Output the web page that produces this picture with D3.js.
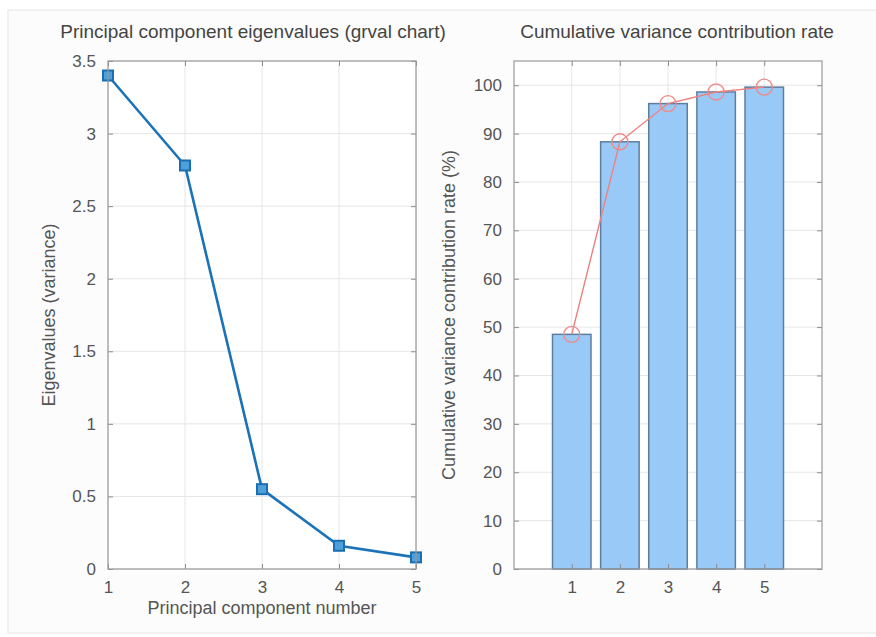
<!DOCTYPE html>
<html>
<head>
<meta charset="utf-8">
<script src="https://cdn.jsdelivr.net/npm/d3@7"></script>
<style>
  body { margin: 0; background: #fff; }
  svg text { font-family: "Liberation Sans", Arial, sans-serif; }
</style>
</head>
<body>
<svg id="fig" width="876" height="637"></svg>
<script>
// chart data
const components = [1, 2, 3, 4, 5];
const eigenvalues = [3.40, 2.78, 0.55, 0.16, 0.08];
const cumulative = [48.5, 88.3, 96.2, 98.6, 99.6];
const leftYTicks = [0, 0.5, 1, 1.5, 2, 2.5, 3, 3.5];
const rightYTicks = [0, 10, 20, 30, 40, 50, 60, 70, 80, 90, 100];

const svg = d3.select("#fig");

// figure frame
svg.append("rect")
  .attr("x", 8).attr("y", 10)
  .attr("width", 880).attr("height", 623)
  .attr("fill", "#fcfcfc")
  .attr("stroke", "#e4e4e4");

const tickColor = "#8c8c8c";
const textColor = "#555";
const tickLen = 5;
const tickFont = "17px";
const labelFont = "18px";

// grid lines behind the data
function drawGrid(g, x, y, xTicks, yTicks) {
  const [x0, x1] = x.range();
  const [y0, y1] = y.range(); // y0 bottom, y1 top

  g.append("rect")
    .attr("x", x0).attr("y", y1)
    .attr("width", x1 - x0).attr("height", y0 - y1)
    .attr("fill", "#fff");

  g.selectAll(".gx").data(xTicks).join("line")
    .attr("x1", (d) => x(d)).attr("x2", (d) => x(d))
    .attr("y1", y0).attr("y2", y1)
    .attr("stroke", "#e6e6e6");
  g.selectAll(".gy").data(yTicks).join("line")
    .attr("x1", x0).attr("x2", x1)
    .attr("y1", (d) => y(d)).attr("y2", (d) => y(d))
    .attr("stroke", "#e6e6e6");
}

// matlab-like box with inward ticks on all four sides
function drawTicks(g, x, y, xTicks, yTicks, yFmt) {
  const [x0, x1] = x.range();
  const [y0, y1] = y.range();

  const bottom = g.append("g").attr("transform", `translate(0,${y0})`)
    .call(d3.axisBottom(x).tickValues(xTicks).tickFormat(d3.format("d"))
      .tickSizeInner(-tickLen).tickSizeOuter(0).tickPadding(12));
  const top = g.append("g").attr("transform", `translate(0,${y1})`)
    .call(d3.axisTop(x).tickValues(xTicks).tickSizeInner(-tickLen).tickSizeOuter(0).tickFormat(""));
  const left = g.append("g").attr("transform", `translate(${x0},0)`)
    .call(d3.axisLeft(y).tickValues(yTicks).tickSizeInner(-tickLen).tickSizeOuter(0).tickPadding(12).tickFormat(yFmt));
  const right = g.append("g").attr("transform", `translate(${x1},0)`)
    .call(d3.axisRight(y).tickValues(yTicks).tickSizeInner(-tickLen).tickSizeOuter(0).tickFormat(""));

  [bottom, top, left, right].forEach((a) => {
    a.select(".domain").remove();
    a.selectAll(".tick line").attr("stroke", tickColor);
    a.selectAll(".tick text")
      .attr("fill", textColor)
      .style("font-size", tickFont);
  });

  g.append("rect")
    .attr("x", x0).attr("y", y1)
    .attr("width", x1 - x0).attr("height", y0 - y1)
    .attr("fill", "none")
    .attr("stroke", "#9a9a9a")
    .attr("stroke-width", 1.2);
}

function addText(g, x, y, str, rotate, color, size) {
  g.append("text")
    .attr("transform", `translate(${x},${y})` + (rotate ? " rotate(-90)" : ""))
    .attr("text-anchor", "middle")
    .attr("fill", color || textColor)
    .style("font-size", size || labelFont)
    .text(str);
}

// ---------- left chart: eigenvalues ----------
const gl = svg.append("g");
const xL = d3.scaleLinear().domain([1, 5]).range([108, 416]);
const yL = d3.scaleLinear().domain([0, 3.5]).range([569, 61]);

drawGrid(gl, xL, yL, components, leftYTicks);

const line = d3.line()
  .x((d, i) => xL(components[i]))
  .y((d) => yL(d));

gl.append("path")
  .datum(eigenvalues)
  .attr("d", line)
  .attr("fill", "none")
  .attr("stroke", "#1a72b8")
  .attr("stroke-width", 2.6);

gl.selectAll(".sq").data(eigenvalues).join("rect")
  .attr("x", (d, i) => xL(components[i]) - 5)
  .attr("y", (d) => yL(d) - 5)
  .attr("width", 10).attr("height", 10)
  .attr("fill", "#4f9fd8")
  .attr("stroke", "#1a6fb3")
  .attr("stroke-width", 2);

drawTicks(gl, xL, yL, components, leftYTicks, (d) => d3.format("~g")(d));

addText(gl, 253, 38, "Principal component eigenvalues (grval chart)", false, "#444", "19px");
addText(gl, 262, 614, "Principal component number");
addText(gl, 55, 315, "Eigenvalues (variance)", true);

// ---------- right chart: cumulative variance ----------
const gr = svg.append("g");
const xR = d3.scaleLinear().domain([-0.2, 6.2]).range([514, 822]);
const yR = d3.scaleLinear().domain([0, 105]).range([569, 61]);
const barW = xR(0.8) - xR(0);

drawGrid(gr, xR, yR, components, rightYTicks);

gr.selectAll(".bar").data(cumulative).join("rect")
  .attr("x", (d, i) => xR(components[i]) - barW / 2)
  .attr("y", (d) => yR(d))
  .attr("width", barW)
  .attr("height", (d) => yR(0) - yR(d))
  .attr("fill", "#99c9f7")
  .attr("stroke", "#5d7f9f")
  .attr("stroke-width", 1.5);

const lineR = d3.line()
  .x((d, i) => xR(components[i]))
  .y((d) => yR(d));

gr.append("path")
  .datum(cumulative)
  .attr("d", lineR)
  .attr("fill", "none")
  .attr("stroke", "#f07f7f")
  .attr("stroke-width", 1.4);

gr.selectAll(".dot").data(cumulative).join("circle")
  .attr("cx", (d, i) => xR(components[i]))
  .attr("cy", (d) => yR(d))
  .attr("r", 8)
  .attr("fill", "none")
  .attr("stroke", "#f08a8a")
  .attr("stroke-width", 1.4);

drawTicks(gr, xR, yR, components, rightYTicks, (d) => d);

addText(gr, 677, 38, "Cumulative variance contribution rate", false, "#444", "19px");
addText(gr, 455, 315, "Cumulative variance contribution rate (%)", true);
</script>
</body>
</html>
